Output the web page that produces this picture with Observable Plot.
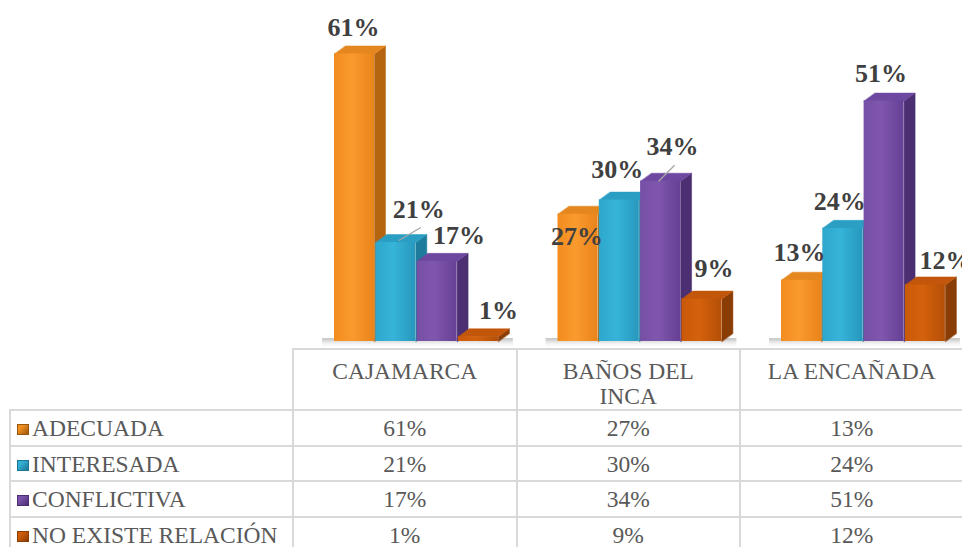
<!DOCTYPE html>
<html><head><meta charset="utf-8">
<script src="https://cdn.jsdelivr.net/npm/d3@7"></script>
<script src="https://cdn.jsdelivr.net/npm/@observablehq/plot@0.6"></script>
<style>
body{margin:0;background:#fff;font-family:'Liberation Serif',serif;}
#wrap{position:relative;width:962px;height:547px;overflow:hidden;}
#wrap svg.plot{display:block;}
table{border-collapse:collapse;table-layout:fixed;margin-left:9px;width:954px;color:#595959;font-size:23.5px;font-family:'Liberation Serif',serif;}
td{border:2px solid #d9d9d9;padding:0;text-align:center;white-space:nowrap;font-family:'Liberation Serif',serif;}
tr.hdr td{height:59px;vertical-align:top;padding-top:9px;line-height:25px;box-sizing:border-box;}
tr.hdr td.blank{border-top:none;border-left:none;}
tr.row td{height:35.5px;vertical-align:middle;line-height:24px;box-sizing:border-box;padding-top:1px;}
td.lab{text-align:left;padding-left:6px;}
.sw{display:inline-block;width:10px;height:9px;margin-right:3px;border:1px solid;vertical-align:1px;}
</style></head>
<body>
<svg width="0" height="0" style="position:absolute">
<defs>
<linearGradient id="front0" x1="0" x2="1" y1="0" y2="0"><stop offset="0" stop-color="#f28c1f"/><stop offset="0.45" stop-color="#fa9a2e"/><stop offset="1" stop-color="#e9841a"/></linearGradient>
<linearGradient id="front1" x1="0" x2="1" y1="0" y2="0"><stop offset="0" stop-color="#2ea7cc"/><stop offset="0.45" stop-color="#36b4d9"/><stop offset="1" stop-color="#2797bd"/></linearGradient>
<linearGradient id="front2" x1="0" x2="1" y1="0" y2="0"><stop offset="0" stop-color="#7650a6"/><stop offset="0.45" stop-color="#7f56ad"/><stop offset="1" stop-color="#654094"/></linearGradient>
<linearGradient id="front3" x1="0" x2="1" y1="0" y2="0"><stop offset="0" stop-color="#c9590a"/><stop offset="0.45" stop-color="#d4610c"/><stop offset="1" stop-color="#b44f07"/></linearGradient>
<linearGradient id="floor" x1="0" x2="0" y1="0" y2="1"><stop offset="0" stop-color="#bdbdbd"/><stop offset="1" stop-color="#ffffff" stop-opacity="0"/></linearGradient>
</defs>
</svg>
<div id="wrap"></div>
<script>
// ---- data ----
const categories = ["CAJAMARCA", "BAÑOS DEL INCA", "LA ENCAÑADA"];
const headerLines = [["CAJAMARCA"], ["BAÑOS DEL", "INCA"], ["LA ENCAÑADA"]];
const seriesNames = ["ADECUADA", "INTERESADA", "CONFLICTIVA", "NO EXISTE RELACIÓN"];
const adecuada = [61, 27, 13];
const interesada = [21, 30, 24];
const conflictiva = [17, 34, 51];
const noExisteRelacion = [1, 9, 12];
const seriesValues = [adecuada, interesada, conflictiva, noExisteRelacion];

// ---- styling (not data) ----
const FONT = "Liberation Serif";
const frontFill = ["url(#front0)", "url(#front1)", "url(#front2)", "url(#front3)"];
const sideColor = ["#b5650f", "#1d7c9c", "#4b2f72", "#8a3c05"];
const topColor = ["#e5871f", "#2b9ec3", "#6d47a0", "#c2560a"];
const swatch = ["#f0901f", "#33afd4", "#7a52a9", "#cd5d0a"];
const swatchBorder = ["#9a560e", "#1c7696", "#4b2f72", "#8a3c05"];
// label nudges in px [dx, dyUp] relative to default (front top centre, 19px above)
const labelNudge = [
  [[-1, -1], [-1, -50], [-2, 0]],
  [[23, 6], [-2, 3], [-3, -1]],
  [[22, -2], [12, 7], [-3, 0]],
  [[20, -1], [12, 3], [20, -3]]
];
const leaders = [ // [series, category]
  [1, 0], [2, 1]
];

const XR = [292, 962.5], YR = [341, 11], YD = [0, 70];
const PX = 3 / (XR[1] - XR[0]);
const PY = (YD[1] - YD[0]) / (YR[0] - YR[1]);
const BAR_OFF = 42, BAR_STEP = 41.3, BAR_W = 40, DEPTH_X = 11, DEPTH_Y = 8;
const DX = DEPTH_X * PX, DY = DEPTH_Y * PY;

const bars = [];
categories.forEach((cat, c) => {
  seriesNames.forEach((name, s) => {
    const v = seriesValues[s][c];
    const x1 = c + (BAR_OFF + s * BAR_STEP) * PX;
    const x2 = x1 + BAR_W * PX;
    bars.push({c, s, v, x1, x2, id: c + "-" + s});
  });
});
const sidePts = bars.flatMap(b => [
  {id: b.id, s: b.s, x: b.x2, y: 0}, {id: b.id, s: b.s, x: b.x2, y: b.v},
  {id: b.id, s: b.s, x: b.x2 + DX, y: b.v + DY}, {id: b.id, s: b.s, x: b.x2 + DX, y: DY}
]);
const topPts = bars.flatMap(b => [
  {id: b.id, s: b.s, x: b.x1, y: b.v}, {id: b.id, s: b.s, x: b.x2, y: b.v},
  {id: b.id, s: b.s, x: b.x2 + DX, y: b.v + DY}, {id: b.id, s: b.s, x: b.x1 + DX, y: b.v + DY}
]);
const labels = bars.map(b => {
  const [ndx, nup] = labelNudge[b.s][b.c];
  return {s: b.s, c: b.c, text: b.v + "%",
    x: (b.x1 + b.x2) / 2 + ndx * PX, y: b.v + (19 + nup) * PY,
    bx: (b.x1 + b.x2) / 2, by: b.v};
});
const leaderLinks = leaders.map(([s, c]) => {
  const l = labels.find(d => d.s === s && d.c === c);
  return {x1: l.bx + (s === 1 ? 3 : -2) * PX, y1: l.by + (s === 1 ? 2 : 0) * PY,
          x2: l.x + 2 * PX, y2: l.y - 10 * PY};
});
const floors = categories.map((cat, c) => ({
  x1: c + (BAR_OFF - 12) * PX,
  x2: c + (BAR_OFF + 3 * BAR_STEP + BAR_W + DEPTH_X + 4) * PX
}));

const marks = [
  Plot.rect(floors, {x1: "x1", x2: "x2", y1: -1.5, y2: 0.6, fill: "url(#floor)"})
];
seriesNames.forEach((name, s) => {
  marks.push(
    Plot.line(sidePts.filter(d => d.s === s), {x: "x", y: "y", z: "id", curve: "linear-closed", fill: sideColor[s], stroke: sideColor[s], strokeWidth: 0.5}),
    Plot.line(topPts.filter(d => d.s === s), {x: "x", y: "y", z: "id", curve: "linear-closed", fill: topColor[s], stroke: topColor[s], strokeWidth: 0.5}),
    Plot.rect(bars.filter(d => d.s === s), {x1: "x1", x2: "x2", y1: 0, y2: "v", fill: frontFill[s], inset: 0})
  );
});
marks.push(
  Plot.link(leaderLinks, {x1: "x1", y1: "y1", x2: "x2", y2: "y2", stroke: "#a6a6a6", strokeWidth: 1.3}),
  Plot.text(labels, {x: "x", y: "y", text: "text", lineAnchor: "bottom", fontSize: 26, fontWeight: "bold", fill: "#404040", fontFamily: FONT})
);

const chart = Plot.plot({
  width: 962,
  height: 348,
  marginLeft: 0, marginRight: 0, marginTop: 0, marginBottom: 0,
  x: {type: "linear", domain: [0, 3], range: XR, axis: null},
  y: {type: "linear", domain: YD, range: YR, axis: null},
  style: {background: "transparent", overflow: "visible", fontFamily: FONT},
  marks
});
chart.classList.add("plot");
const wrap = document.getElementById("wrap");
wrap.appendChild(chart);

// ---- data table under the chart ----
const table = document.createElement("table");
const cg = document.createElement("colgroup");
[283, 223.5, 223.5, 223.5].forEach(w => { const col = document.createElement("col"); col.style.width = w + "px"; cg.appendChild(col); });
table.appendChild(cg);
const hdr = document.createElement("tr"); hdr.className = "hdr";
const blank = document.createElement("td"); blank.className = "blank"; hdr.appendChild(blank);
headerLines.forEach(lines => {
  const td = document.createElement("td");
  td.style.fontFamily = "'Liberation Serif'";
  td.innerHTML = lines.join("<br>");
  hdr.appendChild(td);
});
table.appendChild(hdr);
seriesNames.forEach((name, s) => {
  const tr = document.createElement("tr"); tr.className = "row";
  const lab = document.createElement("td"); lab.className = "lab";
  lab.style.fontFamily = "'Liberation Serif'";
  const sw = document.createElement("span"); sw.className = "sw";
  sw.style.background = `linear-gradient(135deg, ${swatch[s]} 30%, ${swatchBorder[s]})`;
  sw.style.borderColor = swatchBorder[s];
  lab.appendChild(sw);
  lab.appendChild(document.createTextNode(name));
  tr.appendChild(lab);
  categories.forEach((cat, c) => {
    const td = document.createElement("td");
    td.style.fontFamily = "'Liberation Serif'";
    td.textContent = seriesValues[s][c] + "%";
    tr.appendChild(td);
  });
  table.appendChild(tr);
});
wrap.appendChild(table);
</script>
</body></html>
